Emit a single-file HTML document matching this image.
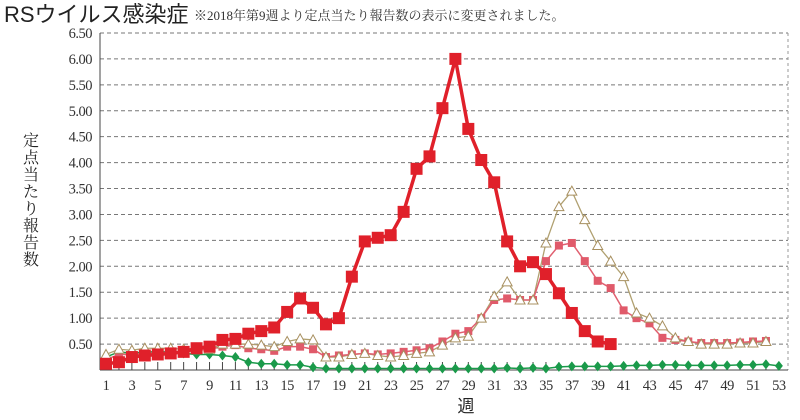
<!DOCTYPE html>
<html><head><meta charset="utf-8"><style>
html,body{margin:0;padding:0;background:#fff;width:800px;height:420px;overflow:hidden}
svg text{font-family:"Liberation Serif","Noto Serif CJK SC",serif}
</style></head><body>
<svg id="s" width="800" height="420" xmlns="http://www.w3.org/2000/svg">
<text x="4" y="22" font-size="22" fill="#222" style='font-family:"Liberation Sans","Noto Sans CJK JP",sans-serif'>RSウイルス感染症</text>
<text x="194" y="20" font-size="13" fill="#333" style='font-family:"Liberation Serif","Noto Serif CJK JP",serif'>※2018年第9週より定点当たり報告数の表示に変更されました。</text>
<text x="466" y="412" font-size="17" text-anchor="middle" fill="#222" style='font-family:"Liberation Sans","Noto Sans CJK JP",sans-serif'>週</text>
<g id="yl" font-size="16" fill="#222" style='font-family:"Liberation Sans","Noto Sans CJK JP",sans-serif' text-anchor="middle"></g>
<g id="g"></g>
</svg>
<script>
var NS="http://www.w3.org/2000/svg",g=document.getElementById('g');
function el(t,a,p){var e=document.createElementNS(NS,t);for(var k in a)e.setAttribute(k,a[k]);(p||g).appendChild(e);return e;}
var lab="定点当たり報告数";for(var i=0;i<lab.length;i++){var t=el('text',{x:31,y:146+i*17},document.getElementById('yl'));t.textContent=lab[i];}
var L=100,R=788,T=33,B=370;
function X(w){return 106+(w-1)*12.94;}
function Y(v){return B-v*51.85;}
for(var k=1;k<=13;k++){var y=Y(k*0.5);el('line',{x1:L,x2:R,y1:y,y2:y,stroke:'#777','stroke-width':1,'stroke-dasharray':'4,3'});
 var t=el('text',{x:92,y:y+5,'font-size':14.5,'text-anchor':'end',fill:'#333','letter-spacing':'-0.5'});t.textContent=(k*0.5).toFixed(2);}
el('line',{x1:R,x2:R,y1:T,y2:B,stroke:'#999','stroke-dasharray':'3,3'});
el('line',{x1:L,x2:L,y1:T,y2:B,stroke:'#444'});
el('line',{x1:L,x2:R,y1:B,y2:B,stroke:'#444'});
for(var w=1;w<=53;w++){el('line',{x1:X(w),x2:X(w),y1:B-8,y2:B,stroke:'#444'});
 if(w%2){var t=el('text',{x:X(w),y:B+20,'font-size':14.5,'text-anchor':'middle',fill:'#333','letter-spacing':'-0.5'});t.textContent=w;}}
var green=[.25,.35,.32,.35,.35,.35,.32,.3,.3,.28,.25,.15,.12,.12,.1,.1,.05,.03,.03,.03,.03,.03,.03,.03,.03,.03,.03,.03,.03,.03,.03,.04,.03,.04,.03,.06,.07,.07,.07,.07,.08,.09,.09,.1,.1,.09,.09,.09,.09,.1,.1,.11,.08];
var tri=[.3,.4,.38,.42,.42,.42,.4,.42,.4,.5,.5,.5,.48,.45,.55,.6,.58,.25,.25,.3,.32,.28,.25,.28,.32,.35,.48,.62,.65,1,1.42,1.7,1.35,1.35,2.45,3.15,3.45,2.9,2.4,2.1,1.8,1.1,1,.85,.62,.55,.5,.5,.5,.52,.52,.55];
var pink=[.2,.3,.3,.32,.32,.35,.35,.38,.4,.45,.48,.42,.4,.37,.45,.45,.4,.25,.28,.3,.32,.3,.32,.35,.38,.42,.55,.7,.75,1,1.35,1.38,1.35,1.35,2.1,2.4,2.45,2.1,1.72,1.58,1.15,1,.9,.62,.58,.55,.52,.52,.52,.53,.55,.56];
var red=[.12,.15,.25,.28,.3,.32,.35,.42,.45,.58,.6,.7,.75,.82,1.12,1.38,1.2,.88,1,1.8,2.48,2.55,2.6,3.05,3.88,4.12,5.05,6,4.65,4.05,3.62,2.48,2,2.08,1.85,1.48,1.1,.75,.55,.5];
function line(d,c,w){el('polyline',{points:d.map(function(v,i){return X(i+1)+','+Y(v)}).join(' '),fill:'none',stroke:c,'stroke-width':w});}
line(green,'#1a9a4a',1.5);
green.forEach(function(v,i){var x=X(i+1),y=Y(v);el('polygon',{points:(x)+','+(y-5)+' '+(x+4)+','+y+' '+x+','+(y+5)+' '+(x-4)+','+y,fill:'#1a9a4a'});});
line(tri,'#b0a070',1.3);
line(pink,'#e06070',1.5);
pink.forEach(function(v,i){el('rect',{x:X(i+1)-4,y:Y(v)-4,width:8,height:8,fill:'#e05a6a'});});
tri.forEach(function(v,i){var x=X(i+1),y=Y(v);el('polygon',{points:x+','+(y-5)+' '+(x+5)+','+(y+4)+' '+(x-5)+','+(y+4),fill:'#fff',stroke:'#a89060','stroke-width':1});});
line(red,'#e0202a',3.5);
red.forEach(function(v,i){el('rect',{x:X(i+1)-6,y:Y(v)-6,width:12,height:12,fill:'#e0202a'});});
</script>
</body></html>
